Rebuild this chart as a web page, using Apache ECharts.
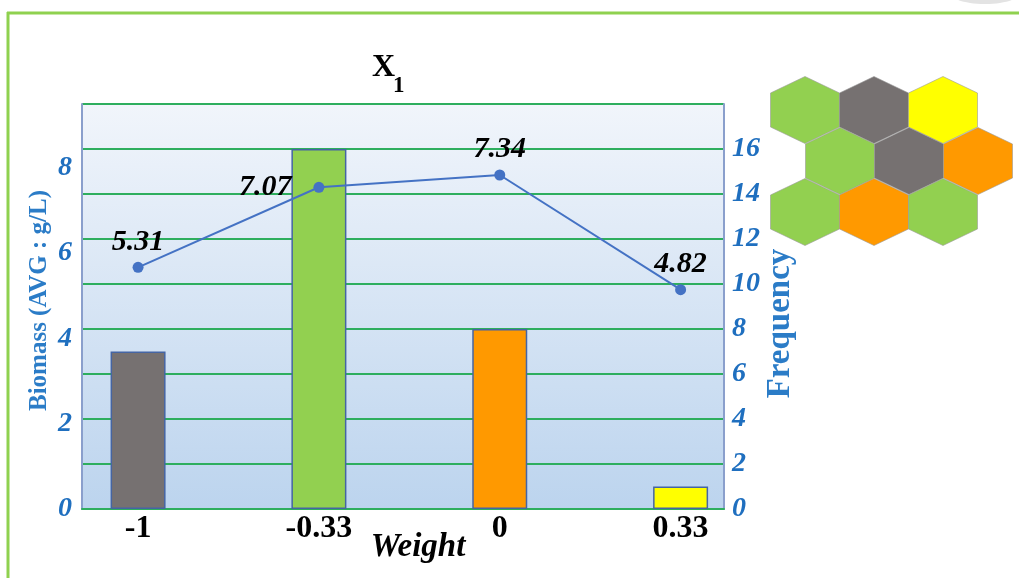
<!DOCTYPE html>
<html>
<head>
<meta charset="utf-8">
<script src="https://cdn.jsdelivr.net/npm/echarts@6/dist/echarts.min.js"></script>
<style>html,body{margin:0;padding:0;background:#fff;}#main{width:1019px;height:578px;}</style>
</head>
<body>
<div id="main"></div>
<script>
// ---- data ----
var categories = ['-1', '-0.33', '0', '0.33'];
var frequency = [7, 16, 8, 1];
var biomass = [5.31, 7.07, 7.34, 4.82];
var barColors = ['#767171', '#92d050', '#ff9900', '#ffff00'];
var labelPositions = ['top', 'left', 'top', 'top'];
var leftTicks = [0, 2, 4, 6, 8];
var rightTicks = [0, 2, 4, 6, 8, 10, 12, 14, 16];

var serif = '"Liberation Serif", "DejaVu Serif", serif';
var blue = '#1f6fbf';

var barData = categories.map(function (c, i) {
  return { value: [i, frequency[i]], itemStyle: { color: barColors[i] } };
});
var lineData = categories.map(function (c, i) {
  var pos = labelPositions[i];
  return { value: [i, biomass[i]], label: { position: pos, distance: pos === 'left' ? 22 : 5 } };
});

// decorative hexagons
function hex(cx, cy, color) {
  var w = 34.5, h = 33.5, s = 17;
  return {
    type: 'polygon',
    shape: { points: [[cx, cy - h], [cx + w, cy - s], [cx + w, cy + s], [cx, cy + h], [cx - w, cy + s], [cx - w, cy - s]] },
    style: { fill: color, stroke: '#9a9a9a', lineWidth: 0.6 }
  };
}
var G = '#92d050', D = '#767171', Y = '#ffff00', O = '#ff9900';
var hexes = [
  hex(805, 110, G), hex(874, 110, D), hex(943, 110, Y),
  hex(840, 161, G), hex(909, 161, D), hex(978, 161, O),
  hex(805, 212, G), hex(874, 212, O), hex(943, 212, G)
];

var chart = echarts.init(document.getElementById('main'));
chart.setOption({
  animation: false,
  backgroundColor: '#ffffff',
  title: [
    { text: 'X', left: 367, top: 47, textStyle: { fontFamily: serif, fontSize: 32, fontWeight: 'bold', color: '#000' } },
    { text: '1', left: 388, top: 70, textStyle: { fontFamily: serif, fontSize: 23, fontWeight: 'bold', color: '#000' } }
  ],
  graphic: [
    { type: 'ellipse', shape: { cx: 985, cy: -8, rx: 36, ry: 12 }, style: { fill: '#e3e3e3' } },
    { type: 'line', shape: { x1: 7, y1: 13, x2: 1019, y2: 13 }, style: { stroke: '#8fd14f', lineWidth: 3 } },
    { type: 'line', shape: { x1: 8, y1: 12, x2: 8, y2: 578 }, style: { stroke: '#8fd14f', lineWidth: 3 } }
  ].concat(hexes),
  grid: {
    left: 82, right: 295, top: 104, bottom: 69,
    outerBoundsMode: 'none', containLabel: false,
    show: true, borderWidth: 0,
    backgroundColor: { type: 'linear', x: 0, y: 0, x2: 0, y2: 1, colorStops: [{ offset: 0, color: '#f1f5fb' }, { offset: 1, color: '#bcd4ee' }] }
  },
  xAxis: {
    type: 'value', min: -0.31, max: 3.24,
    name: 'Weight', nameLocation: 'middle', nameGap: 22, nameMoveOverlap: false,
    nameTextStyle: { fontFamily: serif, fontSize: 33, fontWeight: 'bold', fontStyle: 'italic', color: '#000', padding: [0, 0, 0, 30] },
    axisLine: { show: true, onZero: false, lineStyle: { color: '#2eae5e', width: 2 } },
    axisTick: { show: false },
    splitLine: { show: false },
    axisLabel: {
      customValues: [0, 1, 2, 3],
      margin: 4,
      formatter: function (v) { return categories[Math.round(v)]; },
      fontFamily: serif, fontSize: 32, fontWeight: 'bold', color: '#000'
    }
  },
  yAxis: [
    {
      type: 'value', min: 0, max: 9.5, position: 'left',
      name: 'Biomass (AVG : g/L)', nameLocation: 'middle', nameGap: 30, nameRotate: 90, nameMoveOverlap: false,
      nameTextStyle: { fontFamily: serif, fontSize: 25, fontWeight: 'bold', color: '#2b7cc7', padding: [0, 0, 0, 12] },
      axisLine: { show: true, onZero: false, lineStyle: { color: '#8a9fcc', width: 2 } },
      axisTick: { show: false },
      splitLine: { show: false },
      axisLabel: {
        customValues: leftTicks, margin: 10,
        fontFamily: serif, fontSize: 28, fontWeight: 'bold', fontStyle: 'italic', color: blue
      }
    },
    {
      type: 'value', min: 0, max: 18, interval: 2, position: 'right',
      name: 'Frequency', nameLocation: 'middle', nameGap: 40, nameRotate: 90, nameMoveOverlap: false,
      nameTextStyle: { fontFamily: serif, fontSize: 33, fontWeight: 'bold', color: '#2b7cc7', padding: [0, 34, 0, 0] },
      axisLine: { show: true, onZero: false, lineStyle: { color: '#8a9fcc', width: 2 } },
      axisTick: { show: false },
      splitLine: { show: true, lineStyle: { color: '#2eae5e', width: 2 } },
      axisLabel: {
        customValues: rightTicks, margin: 8,
        fontFamily: serif, fontSize: 28, fontWeight: 'bold', fontStyle: 'italic', color: blue
      }
    },
    {
      type: 'value', min: 0, max: 8.9, show: false, position: 'left',
      axisLine: { show: false, onZero: false }
    }
  ],
  series: [
    {
      type: 'bar', xAxisIndex: 0, yAxisIndex: 1, barWidth: 55,
      data: barData,
      itemStyle: { borderColor: '#4565a3', borderWidth: 1.5 },
      z: 2
    },
    {
      type: 'line', xAxisIndex: 0, yAxisIndex: 2,
      data: lineData,
      symbol: 'circle', symbolSize: 11,
      itemStyle: { color: '#4472c4' },
      lineStyle: { color: '#4472c4', width: 2 },
      label: {
        show: true,
        formatter: function (p) { return p.value[1].toFixed(2); },
        fontFamily: serif, fontSize: 30, fontWeight: 'bold', fontStyle: 'italic', color: '#000'
      },
      z: 3
    }
  ]
});
</script>
</body>
</html>
